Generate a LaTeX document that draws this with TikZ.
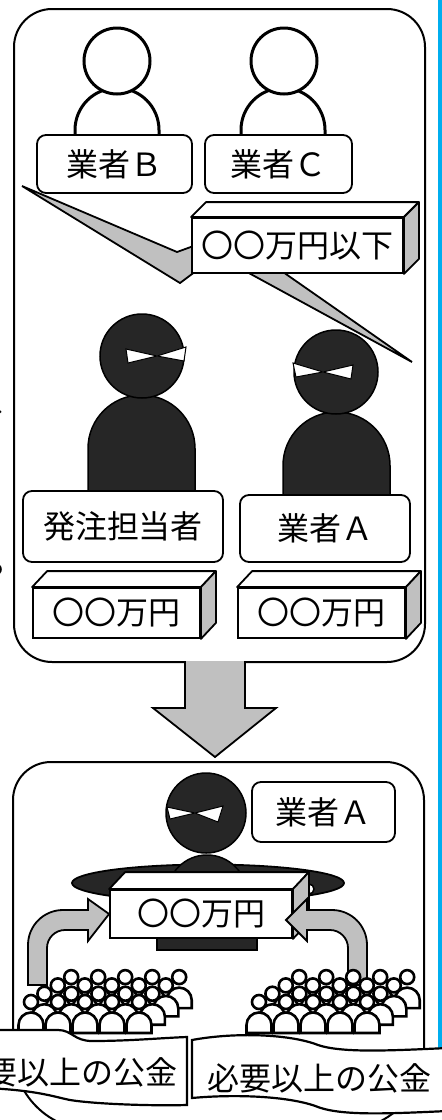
\documentclass[tikz,border=0pt]{standalone}
\usepackage{fontspec}
\newfontfamily\jpfam{Noto Sans CJK JP}
\usetikzlibrary{calc}
\definecolor{ink}{HTML}{262626}
\definecolor{greyfill}{HTML}{C0C0C0}
\definecolor{rim}{HTML}{00AEEF}
\newcommand\jpbig{\jpfam\fontsize{32pt}{36pt}\selectfont}
\begin{document}
\begin{tikzpicture}[x=1pt,y=-1pt,
  panel/.style={draw, line width=2pt, fill=white, rounded corners=38pt, inner sep=0pt, anchor=north west},
  tag/.style={draw, line width=1.8pt, fill=white, rounded corners=9pt, font=\jpbig, inner sep=0pt},
  front/.style={draw, line width=1.8pt, fill=white, font=\jpbig, inner sep=0pt},
  face/.style={draw, line width=1.8pt, fill=white, line join=round},
  sideface/.style={draw, line width=1.8pt, fill=greyfill, line join=round},
  hollowhead/.style={circle, draw, line width=3pt, fill=white, inner sep=0pt},
  hollowbody/.style={draw, line width=3pt, fill=white},
  darkhead/.style={circle, draw, line width=1.5pt, fill=ink, inner sep=0pt},
  darkbody/.style={draw, line width=1.5pt, fill=ink},
  mask/.style={draw, line width=1pt, fill=white, line join=miter},
  blockarrow/.style={draw, line width=1.8pt, fill=greyfill, line join=miter},
  banner/.style={draw, line width=2.2pt, fill=white},
  crowdperson/.pic={
    \draw[line width=2.6pt, fill=white] (-12.5,0) -- (-12.5,-8) arc[start angle=180, end angle=0, radius=12.5pt] -- (12.5,0) -- cycle;
    \draw[line width=2.6pt, fill=white] (0,-31) circle (7pt);
  }]
\useasboundingbox (0,0) rectangle (442,1120);
\fill[white] (0,0) rectangle (442,1120);

% blue rule along the right side
\fill[rim] (437.5,0) rectangle (441.5,1100);

% punctuation ends of text running in from the left
\node[font=\jpfam\fontsize{40pt}{40pt}\selectfont, anchor=base west, inner sep=0pt] (comma) at (-12,412) {、};
\node[font=\jpfam\fontsize{40pt}{40pt}\selectfont, anchor=base west, inner sep=0pt] (stop) at (-12,573) {。};

% ---------------- upper panel ----------------
\node[panel, minimum width=411pt, minimum height=653pt] (upper) at (13,8) {};

% bidders B and C
\draw[hollowbody] (75,140) -- (75,130) arc[start angle=180, end angle=0, radius=42pt] -- (159,140);
\node[hollowhead, minimum size=66pt] (headB) at (117,61) {};
\draw[hollowbody] (241,140) -- (241,130) arc[start angle=180, end angle=0, radius=42pt] -- (325,140);
\node[hollowhead, minimum size=66pt] (headC) at (284,61) {};
\node[tag, minimum width=155pt, minimum height=58pt] (tagB) at (114.5,164) {業者Ｂ};
\node[tag, minimum width=147pt, minimum height=58pt] (tagC) at (278.5,164) {業者Ｃ};

% callout with two tails
\draw[line width=1.8pt, fill=greyfill, line join=miter]
  (22,186) -- (177,252) -- (210,240) -- (300,240) -- (283,272) -- (412,362)
  -- (247,272) -- (196,271) -- (180,283) -- cycle;

% price box of the callout
\node[front, minimum width=211pt, minimum height=55pt] (bid) at (297.5,245.5) {〇〇万円以下};
\draw[face] (bid.north west) -- ++(15,-15) -- ($(bid.north east)+(15,-15)$) -- (bid.north east) -- cycle;
\draw[sideface] (bid.north east) -- ++(15,-15) -- ($(bid.south east)+(15,-15)$) -- (bid.south east) -- cycle;

% official and bidder A
\draw[darkbody] (88,497) -- (88,448.5) arc[start angle=180, end angle=0, radius=53.5pt] -- (195,497);
\node[darkhead, minimum size=84pt] (headO) at (142,356) {};
\draw[mask] (126,349) -- (157,356) -- (186,347) -- (184,361) -- (157,356) -- (128,363) -- cycle;

\draw[darkbody] (283,500) -- (283,465.5) arc[start angle=180, end angle=0, radius=53.5pt] -- (390,500);
\node[darkhead, minimum size=84pt] (headA) at (336,372) {};
\draw[mask] (293,363) -- (323,372) -- (353,365) -- (351,379) -- (323,372) -- (296,377) -- cycle;

\node[tag, minimum width=200pt, minimum height=71pt] (tagO) at (123,526.5) {発注担当者};
\node[tag, minimum width=170pt, minimum height=67pt] (tagA) at (325,528.5) {業者Ａ};

% price boxes
\node[front, minimum width=167pt, minimum height=50pt] (priceO) at (116.5,613) {〇〇万円};
\draw[face] (priceO.north west) -- ++(15,-16) -- ($(priceO.north east)+(15,-16)$) -- (priceO.north east) -- cycle;
\draw[sideface] (priceO.north east) -- ++(15,-16) -- ($(priceO.south east)+(15,-16)$) -- (priceO.south east) -- cycle;
\node[front, minimum width=167pt, minimum height=50pt] (priceA) at (321.5,613) {〇〇万円};
\draw[face] (priceA.north west) -- ++(15,-16) -- ($(priceA.north east)+(15,-16)$) -- (priceA.north east) -- cycle;
\draw[sideface] (priceA.north east) -- ++(15,-16) -- ($(priceA.south east)+(15,-16)$) -- (priceA.south east) -- cycle;

% ---------------- transition arrow ----------------
\fill[greyfill] (185,661) -- (185,708) -- (153,708) -- (215,757) -- (276,708) -- (245,708) -- (245,661) -- cycle;
\draw[line width=1.8pt, line join=miter] (185,661) -- (185,708) -- (153,708) -- (215,757) -- (276,708) -- (245,708) -- (245,661);

% ---------------- lower panel ----------------
\draw[line width=2pt, fill=white] (13,1050) -- (13,800) arc[start angle=180, end angle=90, radius=38pt]
  -- (386,762) arc[start angle=90, end angle=0, radius=38pt]
  -- (424,1050) arc[start angle=0, end angle=-90, radius=80pt]
  -- (93,1130) arc[start angle=270, end angle=180, radius=80pt] -- cycle;

\draw[line width=1.8pt, fill=ink] (208,883) ellipse[x radius=136pt, y radius=18.5pt];
\draw[darkbody] (167,905) -- (167,895) arc[start angle=180, end angle=0, radius=40pt] -- (247,905);
\node[darkhead, minimum size=80pt] (headW) at (206,813) {};
\draw[mask] (167,807) -- (195,813) -- (223,806) -- (218,822) -- (195,813) -- (170,819) -- cycle;
\draw[line width=1.5pt, fill=white] (309,889) circle (5pt);

\node[tag, minimum width=143pt, minimum height=60pt] (tagW) at (323.5,812) {業者Ａ};

\draw[line width=1.5pt, fill=ink] (157,936) rectangle (257,950);
\node[front, minimum width=182pt, minimum height=48pt] (pot) at (201,914) {〇〇万円};
\draw[face] (pot.north west) -- ++(16,-17) -- ($(pot.north east)+(16,-17)$) -- (pot.north east) -- cycle;
\draw[sideface] (pot.north east) -- ++(16,-17) -- ($(pot.south east)+(16,-17)$) -- (pot.south east) -- cycle;

% curved arrows from the crowds into the pot
\draw[blockarrow] (28,985) -- (28,945) arc[start angle=180, end angle=90, radius=35pt] -- (88,910)
  -- (88,899) -- (pot.west) -- (88,941) -- (88,930) -- (65,930)
  arc[start angle=90, end angle=180, radius=18pt] -- (47,985) -- cycle;
\draw[blockarrow] (367,985) -- (367,945) arc[start angle=0, end angle=90, radius=35pt] -- (307,910)
  -- (307,899) -- (286,920) -- (307,941) -- (307,930) -- (330,930)
  arc[start angle=90, end angle=0, radius=18pt] -- (348,985) -- cycle;

% crowds
\foreach \r in {3,2,1,0}{
  \foreach \c in {0,...,4}{
    \pic at ({31+27*\c+13.4*\r},{1033-8.3*\r}) {crowdperson};
    \pic at ({259+27*\c+13.4*\r},{1033-8.3*\r}) {crowdperson};
  }
}

% banners
\draw[banner] (-60,1030) -- (58,1030) .. controls (72,1030) and (74,1041) .. (92,1041)
  .. controls (130,1041) and (160,1038) .. (187,1037) -- (187,1105)
  .. controls (150,1106) and (95,1104) .. (70,1100)
  .. controls (50,1096) and (30,1087) .. (-60,1087) -- cycle;
\node[font=\jpbig, inner sep=0pt] (fundsL) at (66,1072) {必要以上の公金};
\draw[banner] (192,1040) .. controls (235,1032) and (290,1034) .. (318,1045)
  .. controls (345,1054) and (400,1050) .. (470,1047) -- (470,1110)
  .. controls (400,1113) and (345,1117) .. (318,1107)
  .. controls (290,1096) and (235,1094) .. (192,1098) -- cycle;
\node[font=\jpbig, inner sep=0pt] (fundsR) at (319,1078) {必要以上の公金};
\end{tikzpicture}
\end{document}
